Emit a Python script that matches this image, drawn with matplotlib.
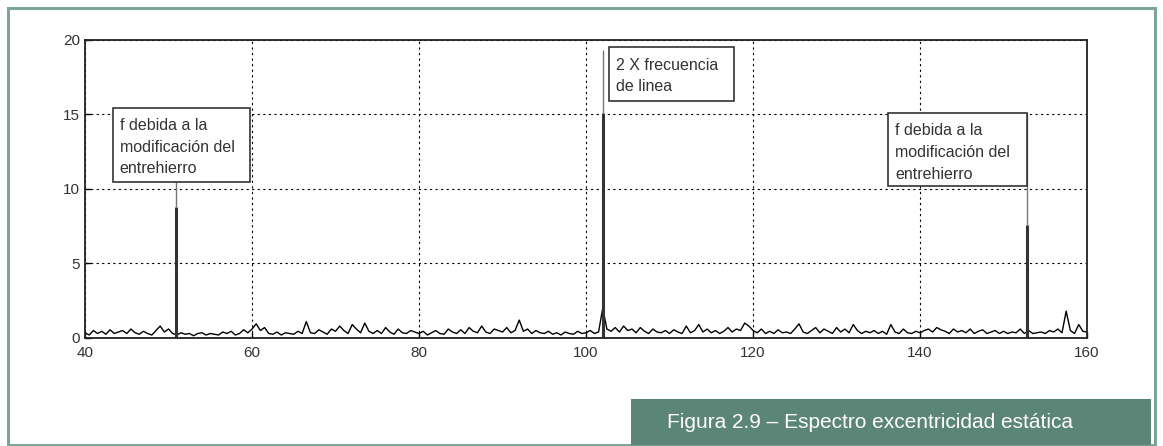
#!/usr/bin/env python3
import matplotlib.pyplot as plt
import matplotlib.patches as patches
import numpy as np

# Spectrum background (0.5 Hz spacing, 40..160)
freq_start, freq_step = 40.0, 0.5
noise = [
    0.35, 0.2, 0.5, 0.3, 0.45, 0.25, 0.55, 0.3, 0.4, 0.5,
    0.3, 0.6, 0.35, 0.25, 0.45, 0.3, 0.2, 0.5, 0.8, 0.4,
    0.6, 0.3, 0.2, 0.35, 0.25, 0.3, 0.15, 0.3, 0.35, 0.2,
    0.3, 0.25, 0.2, 0.4, 0.3, 0.45, 0.2, 0.3, 0.55, 0.35,
    0.6, 0.95, 0.5, 0.7, 0.3, 0.25, 0.4, 0.2, 0.35, 0.3,
    0.25, 0.45, 0.3, 1.1, 0.35, 0.3, 0.55, 0.4, 0.25, 0.6,
    0.45, 0.8, 0.5, 0.3, 0.9, 0.6, 0.35, 1.0, 0.45, 0.3,
    0.5, 0.3, 0.7, 0.4, 0.25, 0.6, 0.35, 0.3, 0.5, 0.4,
    0.3, 0.45, 0.2, 0.35, 0.5, 0.3, 0.25, 0.6, 0.4, 0.3,
    0.55, 0.3, 0.7, 0.45, 0.35, 0.8, 0.4, 0.3, 0.6, 0.5,
    0.4, 0.7, 0.35, 0.5, 1.2, 0.45, 0.6, 0.3, 0.5, 0.35,
    0.3, 0.45, 0.25, 0.35, 0.2, 0.4, 0.3, 0.25, 0.45, 0.3,
    0.35, 0.5, 0.3, 0.4, 2.0, 0.6, 0.45, 0.7, 0.4, 0.8,
    0.5, 0.6, 0.35, 0.7, 0.45, 0.3, 0.6, 0.4, 0.35, 0.5,
    0.3, 0.55, 0.4, 0.3, 0.8, 0.35, 0.5, 0.9, 0.4, 0.6,
    0.35, 0.5, 0.3, 0.45, 0.7, 0.4, 0.6, 0.5, 1.0, 0.8,
    0.5, 0.35, 0.6, 0.3, 0.45, 0.3, 0.55, 0.35, 0.4, 0.3,
    0.6, 0.95, 0.4, 0.3, 0.5, 0.7, 0.35, 0.6, 0.45, 0.3,
    0.7, 0.4, 0.6, 0.35, 0.9, 0.5, 0.3, 0.45, 0.35, 0.5,
    0.3, 0.45, 0.25, 0.9, 0.4, 0.3, 0.6, 0.35, 0.3, 0.45,
    0.35, 0.5, 0.6, 0.4, 0.7, 0.55, 0.45, 0.3, 0.6, 0.4,
    0.5, 0.35, 0.6, 0.3, 0.45, 0.55, 0.3, 0.4, 0.5, 0.3,
    0.45, 0.3, 0.4, 0.35, 0.6, 0.3, 0.5, 0.3, 0.35, 0.4,
    0.3, 0.5, 0.4, 0.6, 0.35, 1.8, 0.5, 0.3, 0.9, 0.45,
    0.4,
]

# Main spectral lines and their annotation leaders
peak_freq = [50.9, 102.0, 152.8]
peak_amp = [8.8, 15.1, 7.6]
leader_top = [10.5, 19.3, 15.1]

labels = [
    "f debida a la\nmodificación del\nentrehierro",
    "2 X frecuencia\nde linea",
    "f debida a la\nmodificación del\nentrehierro",
]

xticks = [40, 60, 80, 100, 120, 140, 160]
yticks = [0, 5, 10, 15, 20]
caption = "Figura 2.9 – Espectro excentricidad estática"

freq = freq_start + freq_step * np.arange(len(noise))

fig = plt.figure(figsize=(11.63, 4.46), dpi=100)
ax = fig.add_axes([0.0731, 0.2422, 0.8616, 0.6682])

ax.plot(freq, noise, color="black", linewidth=1.0)
ax.vlines(peak_freq, 0, peak_amp, color="#333333", linewidth=2.2)
ax.vlines(peak_freq, peak_amp, leader_top, color="#777777", linewidth=1.0)

ax.set_xlim(40, 160)
ax.set_ylim(0, 20)
ax.set_xticks(xticks)
ax.set_yticks(yticks)
ax.grid(True, color="black", linestyle=(0, (2, 3)), linewidth=0.8)
ax.tick_params(direction="in", length=4, labelsize=11, labelcolor="#333333",
               width=1.0)
ax.tick_params(axis="x", pad=6)
for s in ax.spines.values():
    s.set_linewidth(1.3)
    s.set_color("#222222")
for lab in ax.get_xticklabels() + ax.get_yticklabels():
    lab.set_family(["Liberation Sans Narrow", "Liberation Sans", "DejaVu Sans"])

# annotation boxes (x0, x1, y0, y1) in data units
boxes = [(43.35, 59.76, 10.5, 15.45), (102.75, 117.7, 15.9, 19.5),
         (136.2, 152.8, 10.2, 15.1)]
for (x0, x1, y0, y1), txt in zip(boxes, labels):
    ax.add_patch(patches.Rectangle((x0, y0), x1 - x0, y1 - y0, fill=True,
                                   facecolor="white", edgecolor="#333333",
                                   linewidth=1.2, zorder=3))
    ax.text(x0 + 0.8, y1 - 0.7, txt, ha="left", va="top", fontsize=11.5,
            color="#333333", linespacing=1.55, zorder=4,
            family=["Liberation Sans", "DejaVu Sans"])

# outer frame and caption
fig.patches.append(patches.Rectangle((8 / 1163, 1.5 / 446), 1147 / 1163,
                                     436.5 / 446, transform=fig.transFigure,
                                     fill=False, edgecolor="#7ba597",
                                     linewidth=2.2))
fig.patches.append(patches.Rectangle((631 / 1163, 1.5 / 446), 520 / 1163,
                                     45.5 / 446, transform=fig.transFigure,
                                     facecolor="#5b8577", edgecolor="none"))
fig.text(667 / 1163, 24 / 446, caption, color="white", fontsize=15,
         ha="left", va="center", family=["Liberation Sans", "DejaVu Sans"])

fig.savefig("out.png", dpi=100)
